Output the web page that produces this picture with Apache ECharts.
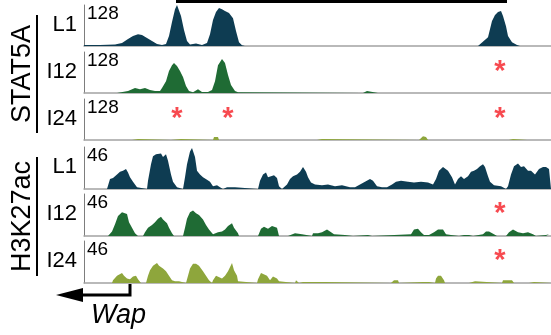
<!DOCTYPE html>
<html>
<head>
<meta charset="utf-8">
<script src="https://cdn.jsdelivr.net/npm/echarts@6/dist/echarts.min.js"></script>
<style>
  html, body { margin: 0; padding: 0; background: #ffffff; }
  #chart { width: 551px; height: 335px; }
</style>
</head>
<body>
<div id="chart"></div>
<script>
// Coverage profiles along the Wap locus: [position bin, signal]
const stat5aL1 = [[0,3],[16,3],[31,5],[38,9],[44,22],[49,31],[54,37],[58,34],[63,25],[68,16],[73,6],[78,3],[82,6],[85,31],[88,75],[91,115],[93,128],[95,122],[97,94],[100,50],[103,16],[106,5],[112,8],[118,3],[123,9],[126,37],[129,81],[132,106],[135,119],[138,115],[141,109],[145,103],[149,87],[152,47],[155,12],[158,2],[161,0],[328,0],[329,3],[330,0],[348,0],[349,3],[350,0],[394,0],[396,2],[404,27],[408,78],[411,97],[414,106],[417,109],[419,94],[422,62],[424,31],[428,12],[433,3],[436,0],[467,0]];
const stat5aI12 = [[0,0],[33,0],[34,3],[44,6],[51,16],[56,12],[61,16],[66,9],[71,6],[76,6],[78,16],[80,12],[82,37],[85,69],[88,87],[90,94],[93,84],[96,69],[99,50],[102,22],[105,6],[109,2],[114,12],[118,3],[124,3],[128,9],[131,37],[134,87],[138,106],[141,94],[144,56],[147,25],[151,6],[154,2],[156,0],[279,0],[280,6],[283,6],[284,0],[294,0],[295,3],[296,0],[467,0]];
const stat5aI24 = [[0,0],[48,0],[49,3],[54,3],[55,0],[87,0],[88,3],[97,3],[98,0],[129,0],[130,9],[134,9],[135,0],[233,0],[234,3],[238,3],[239,0],[335,0],[336,6],[339,12],[342,9],[344,0],[425,0],[426,3],[429,3],[430,0],[443,0],[444,2],[445,0],[467,0]];
const h3k27acL1 = [[0,0],[23,0],[26,11],[29,12],[33,16],[36,19],[39,20],[42,22],[44,18],[46,13],[49,8],[53,2],[55,0],[63,0],[64,9],[67,27],[69,36],[72,38],[74,36],[77,39],[79,35],[82,38],[84,31],[87,16],[89,8],[93,2],[94,0],[99,0],[101,13],[103,27],[106,41],[108,45],[111,35],[113,20],[116,16],[119,13],[123,10],[126,8],[129,3],[133,4],[136,2],[139,0],[143,2],[148,2],[151,2],[153,0],[174,0],[176,9],[179,16],[182,18],[184,13],[187,14],[190,15],[193,12],[195,3],[198,0],[200,0],[203,5],[206,11],[209,14],[213,16],[216,19],[219,24],[222,19],[224,13],[227,7],[231,5],[238,4],[244,5],[251,3],[258,4],[266,2],[271,2],[276,5],[281,8],[286,11],[289,9],[293,3],[298,2],[303,2],[308,5],[312,8],[317,9],[324,8],[330,7],[337,8],[344,7],[349,5],[352,11],[355,20],[359,24],[361,25],[364,20],[368,13],[371,5],[374,11],[377,14],[380,11],[384,14],[387,19],[390,20],[393,22],[396,25],[399,27],[401,24],[404,14],[406,8],[410,4],[417,3],[422,0],[424,3],[427,16],[430,25],[434,28],[437,24],[440,25],[444,20],[447,20],[451,16],[455,22],[459,24],[462,24],[465,22],[467,24]];
const h3k27acI12 = [[0,0],[24,0],[28,5],[31,13],[34,22],[38,26],[40,28],[43,24],[45,15],[48,9],[51,3],[54,0],[59,0],[61,4],[64,9],[68,12],[71,15],[74,19],[77,21],[79,18],[83,14],[85,9],[88,3],[90,0],[99,0],[101,9],[103,19],[106,26],[109,28],[112,25],[115,23],[119,18],[122,12],[125,7],[129,2],[131,0],[134,4],[138,5],[141,7],[144,11],[148,14],[150,9],[151,9],[154,3],[155,0],[174,0],[177,8],[180,10],[184,8],[188,11],[193,9],[195,0],[204,0],[206,2],[211,3],[218,2],[220,0],[228,0],[229,3],[234,3],[238,4],[243,7],[246,5],[250,2],[252,0],[261,1],[269,0],[284,1],[288,0],[327,2],[330,7],[334,8],[337,4],[340,1],[345,1],[350,4],[354,7],[359,7],[362,2],[367,1],[375,0],[380,1],[385,1],[389,0],[399,2],[402,5],[405,5],[410,2],[413,0],[422,0],[425,4],[429,7],[434,4],[439,3],[444,4],[449,2],[452,0],[462,1],[465,2],[467,3]];
const h3k27acI24 = [[0,0],[28,0],[29,3],[33,8],[35,10],[38,11],[40,8],[43,5],[46,4],[49,7],[52,8],[54,4],[57,0],[62,0],[64,8],[66,14],[69,19],[73,22],[75,19],[79,16],[82,13],[85,8],[88,3],[91,2],[95,2],[97,0],[102,0],[104,8],[106,16],[109,21],[112,21],[115,19],[119,13],[122,8],[125,3],[128,0],[129,3],[132,8],[134,9],[138,5],[141,8],[144,13],[148,22],[150,14],[153,8],[154,2],[155,0],[173,0],[174,4],[177,11],[179,12],[183,8],[186,3],[189,7],[193,5],[195,2],[197,0],[211,0],[212,3],[214,2],[215,0],[219,1],[226,1],[227,0],[231,1],[234,1],[235,0],[236,1],[241,1],[242,0],[307,0],[308,2],[310,3],[314,3],[315,0],[339,1],[345,1],[346,0],[351,0],[352,5],[354,8],[357,8],[360,3],[361,0],[385,0],[386,2],[391,2],[392,0],[418,0],[419,3],[422,3],[424,4],[428,3],[430,0],[441,0],[442,2],[445,0],[450,1],[467,1]];

const trackData   = [stat5aL1, stat5aI12, stat5aI24, h3k27acL1, h3k27acI12, h3k27acI24];
const trackLabels = ['L1', 'I12', 'I24', 'L1', 'I12', 'I24'];
const trackMax    = [128, 128, 128, 46, 46, 46];
const trackColors = ['#0e3c52', '#1f6b34', '#8ea63c', '#0e3c52', '#1f6b34', '#8ea63c'];

// Lost STAT5A sites marked with an asterisk: [position bin, height]
const lostSites = [[], [[416, 84]], [[93, 84], [144, 84], [416, 84]], [], [[416, 31]], [[416, 31]]];

const groupNames = ['STAT5A', 'H3K27ac'];
const locusSpan = [92, 423];    // region covered by the bar above the tracks
const wapTss = 46;               // Wap transcription start
const wapArrowTip = -28;         // direction of transcription (leftwards)
const locusEnd = 467;

// Layout
const FONT = '"Liberation Sans", Arial, Helvetica, sans-serif';
const tops = [5, 52, 99, 147, 194, 241];
const heights = [41, 41, 41, 42, 42, 42];
const LEFT = 84;

const chart = echarts.init(document.getElementById('chart'), null, { renderer: 'canvas' });

const grids = [], xAxes = [], yAxes = [], series = [];
for (let i = 0; i < 6; i++) {
  grids.push({ left: LEFT, right: 0, top: tops[i], height: heights[i], containLabel: false });
  xAxes.push({
    type: 'value', gridIndex: i, min: 0, max: locusEnd,
    axisLine: { show: true, onZero: false, lineStyle: { color: '#a3a3a3', width: 1.5 } },
    axisTick: { show: false }, axisLabel: { show: false }, splitLine: { show: false }
  });
  yAxes.push({
    type: 'value', gridIndex: i, min: 0, max: trackMax[i], interval: trackMax[i],
    axisLine: { show: true, lineStyle: { color: '#7d7d7d', width: 1 } },
    axisTick: { show: false }, splitLine: { show: false }, axisLabel: { show: false }
  });
  series.push({
    type: 'line', xAxisIndex: i, yAxisIndex: i, data: trackData[i],
    showSymbol: false, symbol: 'none', silent: true, animation: false,
    lineStyle: { width: 0, color: trackColors[i] },
    areaStyle: { color: trackColors[i], opacity: 1 }
  });
  if (lostSites[i].length) {
    series.push({
      type: 'scatter', xAxisIndex: i, yAxisIndex: i, data: lostSites[i],
      symbolSize: 0, silent: true, animation: false,
      label: {
        show: true, position: 'inside', formatter: '*', color: '#f51d24',
        fontFamily: FONT, fontSize: 29, fontWeight: 'bold', offset: [0, 6]
      }
    });
  }
}

chart.setOption({
  backgroundColor: '#ffffff',
  animation: false,
  grid: grids, xAxis: xAxes, yAxis: yAxes, series: series
});

// Annotations placed from locus positions and track scales
const px = (pos) => chart.convertToPixel({ gridIndex: 0 }, [pos, 0])[0];
const graphics = [];

trackLabels.forEach((t, i) => {
  const topY = chart.convertToPixel({ gridIndex: i }, [0, trackMax[i]])[1];
  graphics.push({
    type: 'text', x: LEFT + 3, y: topY - 1,
    style: { text: String(trackMax[i]), fill: '#000', font: '19px ' + FONT, textAlign: 'left', textVerticalAlign: 'top' }
  });
  graphics.push({
    type: 'text', x: 77, y: tops[i] + heights[i] / 2 - 1,
    style: { text: t, fill: '#000', font: '22px ' + FONT, textAlign: 'right', textVerticalAlign: 'middle' }
  });
});

const groupSpans = [[0, 2], [3, 5]];
groupNames.forEach((g, k) => {
  const y0 = tops[groupSpans[k][0]] + 10;
  const y1 = tops[groupSpans[k][1]] + heights[groupSpans[k][1]] - 7;
  graphics.push({
    type: 'text', x: 23, y: (y0 + y1) / 2, rotation: Math.PI / 2,
    style: { text: g, fill: '#000', font: '27px ' + FONT, textAlign: 'center', textVerticalAlign: 'middle' }
  });
  graphics.push({
    type: 'line', shape: { x1: 37, y1: y0, x2: 37, y2: y1 },
    style: { stroke: '#000', lineWidth: 2 }
  });
});

// Locus bar
graphics.push({
  type: 'line', shape: { x1: px(locusSpan[0]), y1: 1.5, x2: px(locusSpan[1]), y2: 1.5 },
  style: { stroke: '#000', lineWidth: 3 }
});

// Wap gene direction arrow
const base = tops[5] + heights[5];
const tssX = px(wapTss);
const tipX = px(wapArrowTip);
const armY = base + 12;
graphics.push({
  type: 'polyline', shape: { points: [[tssX, base + 1], [tssX, armY], [tipX + 24, armY]] },
  style: { stroke: '#000', lineWidth: 3, fill: null }
});
graphics.push({
  type: 'polygon', shape: { points: [[tipX, armY], [tipX + 27, armY - 7], [tipX + 27, armY + 7]] },
  style: { fill: '#000' }
});
graphics.push({
  type: 'text', x: tipX + 35, y: armY + 7,
  style: { text: 'Wap', fill: '#000', font: 'italic 27px ' + FONT, textAlign: 'left', textVerticalAlign: 'top' }
});

chart.setOption({ graphic: graphics });
</script>
</body>
</html>
